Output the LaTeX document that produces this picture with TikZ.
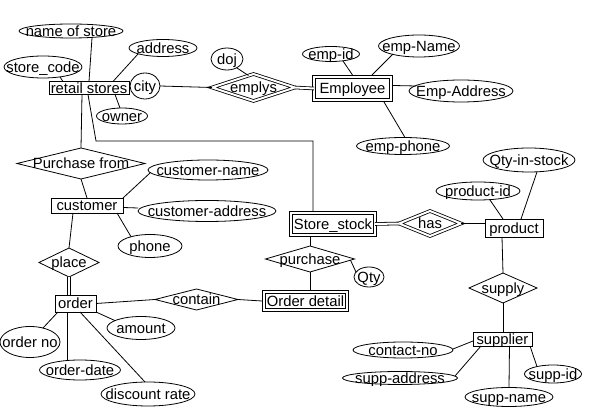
\documentclass[tikz,border=0pt]{standalone}
\usepackage{fontspec}
\setmainfont{Liberation Sans}
\usetikzlibrary{shapes.geometric,calc}
\newcommand\ctx[1]{\raisebox{-0.36em}[0pt][0pt]{\makebox[0pt]{#1}}}
\begin{document}
\begin{tikzpicture}[x=1pt,y=-1pt,
  every node/.style={inner sep=0pt,outer sep=0pt,font=\fontsize{14.8}{17}\selectfont},
  line width=0.8pt,
  ent/.style={draw,rectangle},
  went/.style={draw,rectangle,double,double distance=2pt},
  rel/.style={draw,diamond},
  wrel/.style={draw,diamond,double,double distance=2pt},
  attr/.style={draw,ellipse},
  sz/.style 2 args={minimum width=#1,minimum height=#2},
  dbl/.style={double,double distance=2pt}]
\fill[white] (0,0) rectangle (590,419);
\useasboundingbox (0,0) rectangle (590,419);
% entities
\node[ent,sz={80pt}{13pt}] (rs) at (89,88) {\ctx{retail stores}};
\node[went,sz={77pt}{23pt}] (emp) at (352.5,88.5) {\ctx{Employee}};
\node[went,sz={84pt}{22pt}] (ss) at (333,224) {\ctx{Store\_stock}};
\node[ent,sz={58pt}{18pt}] (prod) at (514,228) {\ctx{product}};
\node[went,sz={83pt}{18pt}] (od) at (305.5,301) {\ctx{Order detail}};
\node[ent,sz={59pt}{14pt}] (supp) at (502.5,339) {\ctx{supplier}};
\node[ent,sz={72pt}{15pt}] (cust) at (87,205.5) {\ctx{customer}};
\node[ent,sz={41pt}{17pt}] (ord) at (75.5,303.5) {\ctx{order}};
% relationships
\node[wrel,sz={83pt}{27pt}] (emplys) at (253.5,87.5) {\ctx{emplys}};
\node[wrel,sz={62pt}{25pt}] (has) at (430,223.5) {\ctx{has}};
\node[rel,sz={89pt}{26pt}] (purch) at (310,259) {\ctx{purchase}};
\node[rel,sz={68pt}{30pt}] (supply) at (503,288) {\ctx{supply}};
\node[rel,sz={128pt}{31pt}] (pf) at (81,163.5) {\ctx{Purchase from}};
\node[rel,sz={60pt}{29pt}] (place) at (69,262.5) {\ctx{place}};
\node[rel,sz={83pt}{21pt}] (contain) at (196.5,299.5) {\ctx{contain}};
% attributes
\node[attr,sz={104pt}{14pt}] (nos) at (71,31) {\ctx{name of store}};
\node[attr,sz={68pt}{17pt}] (addr) at (163,48) {\ctx{address}};
\node[attr,sz={78pt}{22pt}] (sc) at (43,67) {\ctx{store\_code}};
\node[attr,sz={32pt}{22pt}] (doj) at (227,59) {\ctx{doj}};
\node[attr,sz={30pt}{26pt}] (city) at (145,86) {\ctx{city}};
\node[attr,sz={51pt}{16pt}] (owner) at (122,116) {\ctx{owner}};
\node[attr,sz={57pt}{15pt}] (empid) at (331,54) {\ctx{emp-id}};
\node[attr,sz={81pt}{22pt}] (empname) at (419,46) {\ctx{emp-Name}};
\node[attr,sz={104pt}{22pt}] (empaddr) at (461,91) {\ctx{Emp-Address}};
\node[attr,sz={93pt}{17pt}] (empphone) at (403,146) {\ctx{emp-phone}};
\node[attr,sz={92pt}{24pt}] (qis) at (529,160) {\ctx{Qty-in-stock}};
\node[attr,sz={84pt}{18pt}] (pid) at (478,191) {\ctx{product-id}};
\node[attr,sz={30pt}{20pt}] (qty) at (369,277) {\ctx{Qty}};
\node[attr,sz={100pt}{16pt}] (cno) at (403,350) {\ctx{contact-no}};
\node[attr,sz={115pt}{13pt}] (saddr) at (400,378) {\ctx{supp-address}};
\node[attr,sz={57pt}{18pt}] (sid) at (553,374) {\ctx{supp-id}};
\node[attr,sz={88pt}{19pt}] (sname) at (509,397) {\ctx{supp-name}};
\node[attr,sz={120pt}{20pt}] (cname) at (208,170) {\ctx{customer-name}};
\node[attr,sz={138pt}{21pt}] (caddr) at (207,211) {\ctx{customer-address}};
\node[attr,sz={64pt}{23pt}] (phone) at (150,246) {\ctx{phone}};
\node[attr,sz={68pt}{23pt}] (amount) at (141,328) {\ctx{amount}};
\node[attr,sz={60pt}{31pt}] (ono) at (30,342) {\ctx{order no}};
\node[attr,sz={81pt}{20pt}] (odate) at (80,370) {\ctx{order-date}};
\node[attr,sz={94pt}{24pt}] (disc) at (148,394) {\ctx{discount rate}};
% connectors
\draw ($(nos)+(21,7)$) -- ($(rs)+(0,-6.5)$);
\draw ($(sc)+(17,10)$) -- ($(rs)+(-26,-6.5)$);
\draw ($(addr)+(-25,6)$) -- ($(rs)+(24,-6.5)$);
\draw ($(owner)+(-2,-8)$) -- ($(rs)+(26,6.5)$);
\draw ($(rs)+(-7,6.5)$) -- (pf.north);
\coordinate (bend) at (96,141);
\draw ($(rs)+(-1,6.5)$) -- (bend) -| ($(ss.north)+(-20,-2)$);
\draw (city.east) -- (emplys.west);
\draw ($(doj)+(10,9)$) -- ($(emplys.north)+(-5,1.6)$);
\draw[dbl] (emplys.east) -- (emp.west);
\draw ($(empid)+(12,7)$) -- ($(emp)+(0,-13.5)$);
\draw ($(empname)+(-26,8)$) -- ($(emp)+(19.5,-13.5)$);
\draw ($(empaddr)+(-45,-5)$) -- ($(emp)+(40.5,-3)$);
\draw ($(empphone)+(2,-8.5)$) -- ($(emp)+(31.5,13.5)$);
\draw[dbl] (ss.east) -- (has.west);
\draw (has.east) -- (prod.west |- has.east);
\draw ($(pid)+(12,9)$) -- ($(prod)+(-11,-9)$);
\draw ($(qis)+(8,12)$) -- ($(prod)+(7,-9)$);
\draw ($(prod.south)+(-12,0)$) -- (supply.north);
\draw ($(ss.south)+(-23,2)$) -- (purch.north);
\draw ($(purch.east)+(-4,1.2)$) -- ($(qty)+(-13,-5)$);
\draw (purch.south) -- ($(purch.south |- od.north)+(0,-2)$);
\draw (supply.south) -- (supply.south |- supp.north);
\draw ($(cno.east)+(0,-1)$) -- ($(supp.west)+(0,2)$);
\draw ($(saddr)+(55,-2)$) -- ($(supp.south)+(-21.5,0)$);
\draw ($(supp)+(27.5,7)$) -- ($(sid)+(-16,-7.4)$);
\draw ($(supp.south)+(7,0)$) -- (sname.north);
\draw (pf.south) -- (cust.north);
\draw ($(cname)+(-58,3)$) -- (cust.north east);
\draw ($(cust.east)+(0,2)$) -- ($(caddr.west)+(0,-3)$);
\draw ($(cust.south)+(30,0)$) -- ($(phone)+(-19,-9.3)$);
\draw ($(cust.south)+(-14,0)$) -- (place.north);
\draw[dbl] (place.south) -- (place.south |- ord.north);
\draw (ord.east) -- (contain.west);
\draw (contain.east) -- ($(od.west)+(-2,0)$);
\draw (ord.south east) -- ($(amount)+(-26,-7.4)$);
\draw ($(ord)+(-17.5,8.5)$) -- ($(ono)+(13,-14)$);
\draw ($(ord)+(-8.5,8.5)$) -- ($(odate)+(-13,-9.5)$);
\draw ($(ord)+(4.5,8.5)$) -- ($(disc.north)+(-3,0)$);
\end{tikzpicture}
\end{document}
